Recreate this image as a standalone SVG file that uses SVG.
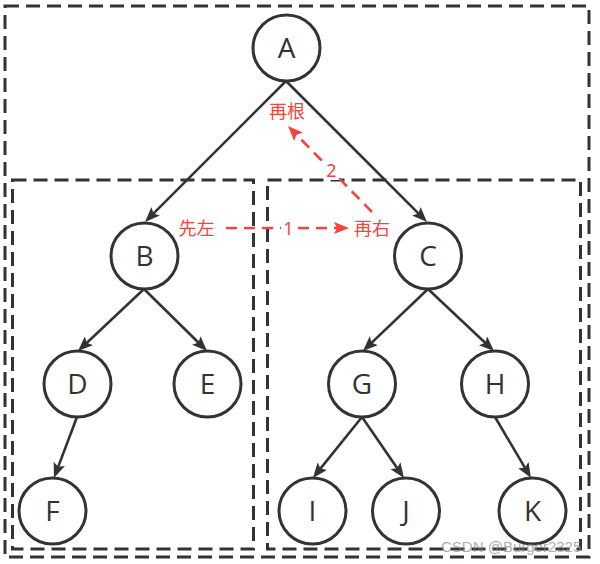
<svg xmlns="http://www.w3.org/2000/svg" width="600" height="564" viewBox="0 0 600 564">
<defs>
<style>
.box{fill:none;stroke:#333;stroke-width:3;stroke-dasharray:14 7}
.node ellipse{fill:#fff;stroke:#333;stroke-width:3}
.node text{font-family:"Open Sans","Noto Sans",sans-serif;font-size:28px;fill:#333;text-anchor:middle}
.edge{stroke:#333;stroke-width:2.6;fill:none;marker-end:url(#ah)}
.red{stroke:#F2453D;stroke-width:2.6;fill:none;stroke-dasharray:11 7;marker-end:url(#rah)}
.rt{font-family:"Noto Sans","Noto Sans CJK SC",sans-serif;font-size:18px;fill:#F2453D;text-anchor:middle}
.wm{font-family:"Liberation Sans",Arial,sans-serif;font-size:15px;fill:#888;fill-opacity:0.7}
</style>
<marker id="ah" viewBox="0 0 15 12" refX="5" refY="6" markerWidth="15" markerHeight="12" markerUnits="userSpaceOnUse" orient="auto">
<path d="M0,0 L15,6 L0,12 L3,6 Z" fill="#333"/>
</marker>
<marker id="rah" viewBox="0 0 15 12" refX="5" refY="6" markerWidth="15" markerHeight="12" markerUnits="userSpaceOnUse" orient="auto">
<path d="M0,0 L15,6 L0,12 L3,6 Z" fill="#F2453D"/>
</marker>
</defs>
<rect width="600" height="564" fill="#fff"/>
<g id="boxes">
<rect class="box" x="5" y="6" width="584" height="551"/>
<rect class="box" x="12.5" y="180" width="241" height="369"/>
<rect class="box" x="267.5" y="180" width="313" height="369"/>
</g>
<g id="connectors">
<line class="edge" x1="286" y1="81" x2="152.1" y2="214.9"/>
<line class="edge" x1="286" y1="81" x2="419.9" y2="214.9"/>
<line class="edge" x1="144" y1="289" x2="85.3" y2="344.2"/>
<line class="edge" x1="144" y1="289" x2="199.9" y2="344"/>
<line class="edge" x1="77" y1="417" x2="57.5" y2="468.6"/>
<line class="edge" x1="428" y1="289" x2="370.2" y2="344.1"/>
<line class="edge" x1="428" y1="289" x2="486.7" y2="344.2"/>
<line class="edge" x1="362" y1="417" x2="319.2" y2="470.1"/>
<line class="edge" x1="362" y1="417" x2="398.3" y2="469.8"/>
<line class="edge" x1="495" y1="417" x2="525.9" y2="469.4"/>
<line class="red" x1="226" y1="228" x2="339" y2="228"/>
<line class="red" x1="372" y1="212" x2="295" y2="133.2"/>
<rect x="281" y="218" width="15" height="20" fill="#fff"/>
<text class="rt" x="288.5" y="234.5">1</text>
<rect x="324" y="160" width="15" height="20" fill="#fff"/>
<text class="rt" x="331.5" y="176.5">2</text>
</g>
<g id="labels">
<text class="rt" x="287" y="118">再根</text>
<text class="rt" x="196.5" y="235">先左</text>
<text class="rt" x="372" y="235">再右</text>
</g>
<g id="A" class="node"><ellipse cx="286.5" cy="48" rx="33.5" ry="33"/><text x="286.5" y="58">A</text></g>
<g id="B" class="node"><ellipse cx="144.5" cy="256" rx="33.5" ry="33"/><text x="144.5" y="266">B</text></g>
<g id="C" class="node"><ellipse cx="428" cy="256" rx="33.5" ry="33"/><text x="428" y="266">C</text></g>
<g id="D" class="node"><ellipse cx="77.5" cy="384" rx="33.5" ry="33"/><text x="77.5" y="394">D</text></g>
<g id="E" class="node"><ellipse cx="207.5" cy="384" rx="33.5" ry="33"/><text x="207.5" y="394">E</text></g>
<g id="G" class="node"><ellipse cx="362" cy="384" rx="33.5" ry="33"/><text x="362" y="394">G</text></g>
<g id="H" class="node"><ellipse cx="495" cy="384" rx="33.5" ry="33"/><text x="495" y="394">H</text></g>
<g id="F" class="node"><ellipse cx="52.5" cy="511" rx="33.5" ry="33"/><text x="52.5" y="521">F</text></g>
<g id="I" class="node"><ellipse cx="312.5" cy="511" rx="33.5" ry="33"/><text x="312.5" y="521">I</text></g>
<g id="J" class="node"><ellipse cx="406" cy="511" rx="33.5" ry="33"/><text x="406" y="521">J</text></g>
<g id="K" class="node"><ellipse cx="532.5" cy="511" rx="33.5" ry="33"/><text x="532.5" y="521">K</text></g>
<text class="wm" x="441" y="552">CSDN @Burger2325</text>
</svg>
